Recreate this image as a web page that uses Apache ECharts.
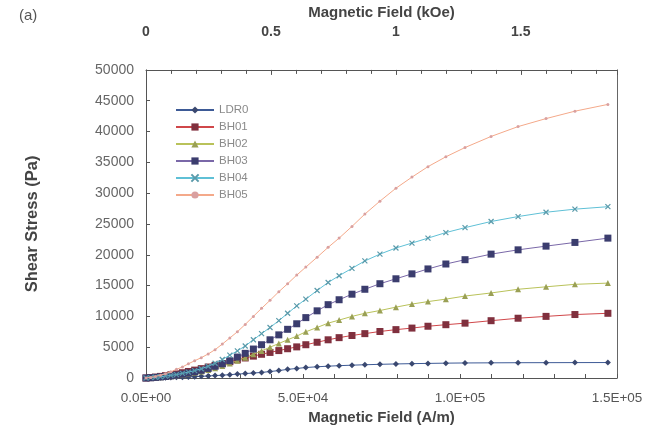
<!DOCTYPE html>
<html><head><meta charset="utf-8">
<script src="https://cdn.jsdelivr.net/npm/echarts@6/dist/echarts.min.js"></script>
<style>html,body{margin:0;padding:0;background:#fff}#c{width:664px;height:434px}</style>
</head><body><div id="c"></div>
<script>
const fieldAm = [0,1500,3000,4600,6200,7900,9700,11600,13500,15500,17600,19800,22000,24300,26700,29100,31600,34200,36800,39500,42300,45100,48000,50900,54500,58000,61500,65600,69700,74500,79600,84700,89800,95500,101600,109900,118500,127400,136600,147100];
const LDR0 = [0,10,20,40,60,80,110,140,180,220,270,330,390,460,540,630,720,810,900,1050,1200,1400,1550,1700,1820,1920,2000,2080,2150,2220,2280,2330,2370,2410,2440,2460,2480,2490,2500,2510];
const BH01 = [0,60,150,260,380,520,680,860,1060,1280,1520,1780,2050,2350,2650,2950,3250,3550,3850,4150,4450,4750,5050,5400,5800,6200,6550,6900,7200,7550,7850,8100,8400,8650,8900,9300,9700,10000,10300,10500];
const BH02 = [0,30,80,140,210,300,400,520,670,850,1050,1300,1600,1950,2350,2800,3300,3850,4400,5000,5600,6200,6800,7500,8200,8900,9400,10000,10500,10950,11500,12000,12400,12800,13300,13800,14400,14800,15200,15400];
const BH03 = [0,40,100,170,250,350,470,620,800,1000,1250,1550,1900,2300,2800,3400,4000,4700,5400,6200,7000,7900,8800,9800,10900,11900,12700,13600,14400,15300,16100,16900,17700,18500,19200,20100,20800,21400,22000,22700];
const BH04 = [0,50,120,200,300,420,560,740,950,1200,1500,1900,2400,3000,3700,4400,5200,6200,7200,8200,9300,10500,11700,12800,14200,15500,16600,17800,19000,20100,21100,21900,22700,23600,24400,25400,26200,26900,27400,27800];
const BH05 = [0,100,250,450,700,1000,1400,1800,2300,2800,3300,3900,4600,5500,6500,7500,8700,10000,11300,12600,14000,15300,16700,18000,19600,21200,22700,24600,26600,28700,30800,32600,34300,35900,37400,39200,40800,42100,43300,44400];
const seriesNames = ['LDR0','BH01','BH02','BH03','BH04','BH05'];
const seriesData = [LDR0,BH01,BH02,BH03,BH04,BH05];
const yTicks = [0,5000,10000,15000,20000,25000,30000,35000,40000,45000,50000];
const xMaxAm = 150000;
const AM_PER_KOE = 79577.47;

const lineColors = ['#3d5a96','#d0474a','#b9c25a','#7a68a8','#5fc0d6','#f4a98a'];
const markColors = ['#3a4870','#80303e','#9aa055','#3b3d6e','#5a9aaa','#d9a0a0'];
const xPath = 'path://M0,0L10,10M10,0L0,10';
const symbols = ['diamond','rect','triangle','rect', xPath,'circle'];
const symSizes = [6,7,6,7,5,3];

function sci(v){
  if (v===0) return '0.0E+00';
  const e = Math.floor(Math.log10(v));
  const m = v/Math.pow(10,e);
  return m.toFixed(1)+'E+'+(e<10?'0':'')+e;
}
const font = 'Liberation Sans, Arial, sans-serif';
const series = seriesNames.map((n,i)=>({
  name:n, type:'line', xAxisIndex:0, yAxisIndex:0,
  data: fieldAm.map((x,j)=>[x, seriesData[i][j]]),
  symbol: symbols[i], symbolSize: symSizes[i], showSymbol:true,
  lineStyle:{color:lineColors[i], width:1},
  itemStyle:{color:markColors[i], borderColor:markColors[i], borderWidth: i===4?1.2:0},
  z: 2+i, animation:false
}));
const axisCol = '#555';
const chart = echarts.init(document.getElementById('c'));
chart.setOption({
  animation:false,
  backgroundColor:'#fff',
  textStyle:{fontFamily:font},
  grid:{left:146, right:47, top:64, bottom:56, show:false},
  graphic:[{type:'text', left:19, top:8, style:{text:'(a)', font:'15px '+font, fill:'#555'}}],
  legend:{
    orient:'vertical', left:170, top:99, itemGap:5, itemWidth:38, itemHeight:9,
    textStyle:{fontSize:11.5, color:'#8a8a8a', fontFamily:font},
    data: seriesNames
  },
  xAxis:[{
    type:'value', position:'bottom', min:0, max:xMaxAm, interval:50000,
    axisLine:{show:true, onZero:false, lineStyle:{color:axisCol}},
    axisTick:{show:true, inside:true, length:4, lineStyle:{color:axisCol}},
    minorTick:{show:true, splitNumber:5, length:4, lineStyle:{color:axisCol}},
    splitLine:{show:false},
    axisLabel:{formatter:sci, color:'#555', fontSize:13.5, margin:13},
    name:'Magnetic Field (A/m)', nameLocation:'middle', nameGap:28,
    nameTextStyle:{fontWeight:'bold', fontSize:15, color:'#444'}
  },{
    type:'value', position:'top', min:0, max:xMaxAm/AM_PER_KOE, interval:0.5,
    axisLine:{show:true, onZero:false, lineStyle:{color:axisCol}},
    axisTick:{show:true, inside:true, length:5, lineStyle:{color:axisCol}},
    minorTick:{show:true, splitNumber:5, length:4, lineStyle:{color:axisCol}},
    splitLine:{show:false},
    axisLabel:{showMaxLabel:false, color:'#444', fontSize:14, fontWeight:'bold', margin:31,
      formatter:v=> (Math.abs(v*2-Math.round(v*2))<1e-6)? String(v):''},
    name:'Magnetic Field (kOe)', nameLocation:'middle', nameGap:43,
    nameTextStyle:{fontWeight:'bold', fontSize:15, color:'#444'}
  }],
  yAxis:[{
    type:'value', min:yTicks[0], max:yTicks[yTicks.length-1], interval:yTicks[1]-yTicks[0],
    axisLine:{show:true, onZero:false, lineStyle:{color:axisCol}},
    axisTick:{show:true, inside:true, length:4, lineStyle:{color:axisCol}},
    splitLine:{show:false},
    axisLabel:{color:'#666', fontSize:14, margin:12, formatter:v=>String(v)},
    name:'Shear Stress (Pa)', nameLocation:'middle', nameGap:105,
    nameTextStyle:{fontWeight:'bold', fontSize:16.5, color:'#444'}
  },{
    type:'value', position:'right', min:0, max:50000,
    axisLine:{show:true, onZero:false, lineStyle:{color:'#666'}},
    axisTick:{show:false}, axisLabel:{show:false}, splitLine:{show:false}
  }],
  series: series
});
</script></body></html>
